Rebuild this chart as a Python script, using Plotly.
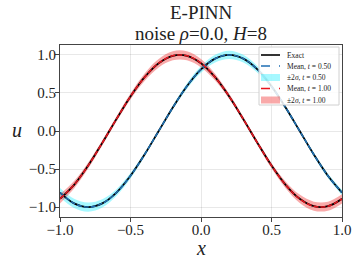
import plotly.graph_objects as go

# Sampled x positions
x_vals = [-1.0, -0.9, -0.8, -0.7, -0.6, -0.5, -0.4, -0.3, -0.2, -0.1, 0.0,
          0.1, 0.2, 0.3, 0.4, 0.5, 0.6, 0.7, 0.8, 0.9, 1.0]

# t = 0.50 (exact and mean coincide visually)
u_t050 = [-0.809, -0.951, -1.0, -0.951, -0.809, -0.588, -0.309, 0.0, 0.309, 0.588, 0.809,
          0.951, 1.0, 0.951, 0.809, 0.588, 0.309, 0.0, -0.309, -0.588, -0.809]
two_sigma_t050 = [0.06, 0.06, 0.06, 0.055, 0.045, 0.035, 0.025, 0.02, 0.025, 0.035, 0.045,
                  0.05, 0.055, 0.05, 0.045, 0.035, 0.025, 0.02, 0.025, 0.03, 0.035]

# t = 1.00
u_t100 = [-0.891, -0.707, -0.454, -0.156, 0.156, 0.454, 0.707, 0.891, 0.988, 0.988, 0.891,
          0.707, 0.454, 0.156, -0.156, -0.454, -0.707, -0.891, -0.988, -0.988, -0.891]
two_sigma_t100 = [0.06, 0.05, 0.04, 0.035, 0.035, 0.04, 0.05, 0.055, 0.06, 0.06, 0.055,
                  0.045, 0.035, 0.03, 0.03, 0.035, 0.045, 0.055, 0.06, 0.06, 0.06]

x_ticks = [-1.0, -0.5, 0.0, 0.5, 1.0]
y_ticks = [-1.0, -0.5, 0.0, 0.5, 1.0]

legend_labels = ["Exact", "Mean, <i>t</i> = 0.50", "±2<i>σ</i>, <i>t</i> = 0.50",
                 "Mean, <i>t</i> = 1.00", "±2<i>σ</i>, <i>t</i> = 1.00"]
title_lines = ["E-PINN", "noise <i>ρ</i>=0.0, <i>H</i>=8"]
x_label = "<i>x</i>"
y_label = "<i>u</i>"

FONT = "Liberation Serif"
BLUE_BAND = "rgba(0,235,255,0.35)"
RED_BAND = "rgba(240,30,30,0.38)"
BLUE = "#1f6fb4"
RED = "#e8141e"

fig = go.Figure()

def band(u, s, color):
    lo = [a - b for a, b in zip(u, s)]
    hi = [a + b for a, b in zip(u, s)]
    fig.add_trace(go.Scatter(x=x_vals, y=lo, mode="lines", line=dict(width=0, shape="spline"),
                             showlegend=False, hoverinfo="skip"))
    fig.add_trace(go.Scatter(x=x_vals, y=hi, mode="lines", line=dict(width=0, shape="spline"),
                             fill="tonexty", fillcolor=color, showlegend=False))

band(u_t050, two_sigma_t050, BLUE_BAND)
band(u_t100, two_sigma_t100, RED_BAND)

for u in (u_t050, u_t100):
    fig.add_trace(go.Scatter(x=x_vals, y=u, mode="lines",
                             line=dict(color="black", width=1.8, shape="spline"), showlegend=False))
fig.add_trace(go.Scatter(x=x_vals, y=u_t050, mode="lines",
                         line=dict(color=BLUE, width=1.5, dash="5px,2px", shape="spline"), showlegend=False))
fig.add_trace(go.Scatter(x=x_vals, y=u_t100, mode="lines",
                         line=dict(color=RED, width=1.5, dash="5px,2px", shape="spline"), showlegend=False))

# plot area in pixels: x 60..342, y 45..217
W, H = 357, 261
L, R, T, B = 60, 342, 45, 217
def px(xp):
    return (xp - L) / (R - L)
def py(yp):
    return (B - yp) / (B - T)

shapes = []
annotations = []
# legend box
shapes.append(dict(type="rect", xref="paper", yref="paper", x0=px(259), x1=px(339), y0=py(105), y1=py(47),
                   line=dict(color="#d0d0d0", width=1), fillcolor="rgba(255,255,255,0.85)", layer="above"))
rows = [55, 66, 77.5, 88.5, 100]
styles = [("line", "black", "solid"), ("line", BLUE, "dash"), ("rect", BLUE_BAND, None),
          ("line", RED, "dash"), ("rect", RED_BAND, None)]
for yrow, (kind, col, dash), lab in zip(rows, styles, legend_labels):
    if kind == "line":
        shapes.append(dict(type="line", xref="paper", yref="paper", x0=px(261), x1=px(280),
                           y0=py(yrow), y1=py(yrow), line=dict(color=col, width=1.6, dash=dash), layer="above"))
    else:
        shapes.append(dict(type="rect", xref="paper", yref="paper", x0=px(261), x1=px(280),
                           y0=py(yrow + 3.5), y1=py(yrow - 3.5), line=dict(width=0), fillcolor=col, layer="above"))
    annotations.append(dict(text=lab, xref="paper", yref="paper", x=px(285), y=py(yrow),
                            xanchor="left", yanchor="middle", showarrow=False,
                            font=dict(family=FONT, size=7.5, color="#222")))

# title lines
for yline, txt in zip([12, 33], title_lines):
    annotations.append(dict(text=txt, xref="paper", yref="paper", x=px(201), y=py(yline),
                            xanchor="center", yanchor="middle", showarrow=False,
                            font=dict(family=FONT, size=19, color="#222")))
# axis labels
annotations.append(dict(text=x_label, xref="paper", yref="paper", x=px(201), y=py(248),
                        xanchor="center", yanchor="middle", showarrow=False,
                        font=dict(family=FONT, size=20, color="#222")))
annotations.append(dict(text=y_label, xref="paper", yref="paper", x=px(17), y=py(130),
                        xanchor="center", yanchor="middle", showarrow=False,
                        font=dict(family=FONT, size=20, color="#222")))

axis_common = dict(showline=True, mirror=True, linecolor="#444", linewidth=1,
                   showgrid=True, gridcolor="rgba(0,0,0,0.09)", gridwidth=1,
                   ticks="outside", ticklen=4, tickcolor="#444", zeroline=False, automargin=False,
                   tickfont=dict(family=FONT, size=15, color="#222"), tickformat=".1f")

fig.update_layout(
    width=W, height=H,
    margin=dict(l=L, r=W - R, t=T, b=H - B),
    paper_bgcolor="white", plot_bgcolor="white",
    xaxis=dict(range=[-1, 1], tickvals=x_ticks, ticklabelstandoff=-5, **axis_common),
    yaxis=dict(range=[-1.13, 1.13], tickvals=y_ticks, ticklabelstandoff=-4, **axis_common),
    shapes=shapes,
    annotations=annotations,
    showlegend=False,
)

fig.write_html("out.html", config={"displayModeBar": False},
               post_script="document.body.style.margin='0';")
